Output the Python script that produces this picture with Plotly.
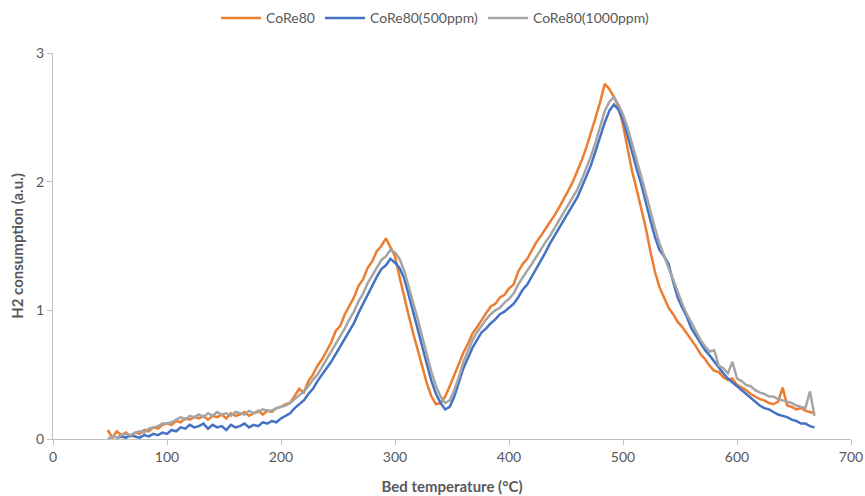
import plotly.graph_objects as go

temps = list(range(48, 669, 4))

core80 = [
    0.07, 0.01, 0.06, 0.03, 0.05, 0.02, 0.05, 0.04, 0.07, 0.06,
    0.09, 0.08, 0.11, 0.12, 0.11, 0.14, 0.13, 0.16, 0.15, 0.17,
    0.16, 0.18, 0.15, 0.18, 0.17, 0.19, 0.16, 0.20, 0.18, 0.19,
    0.21, 0.18, 0.20, 0.22, 0.19, 0.22, 0.21, 0.24, 0.25, 0.27,
    0.28, 0.33, 0.39, 0.36, 0.45, 0.50, 0.57, 0.62, 0.69, 0.75,
    0.84, 0.88, 0.97, 1.04, 1.10, 1.19, 1.24, 1.33, 1.38, 1.46,
    1.50, 1.56, 1.49, 1.42, 1.26, 1.10, 0.96, 0.82, 0.69, 0.55,
    0.43, 0.33, 0.27, 0.28, 0.33, 0.41, 0.50, 0.58, 0.67, 0.74,
    0.82, 0.87, 0.93, 0.98, 1.03, 1.05, 1.10, 1.12, 1.17, 1.20,
    1.30, 1.36, 1.40, 1.47, 1.53, 1.58, 1.63, 1.68, 1.74, 1.80,
    1.86, 1.93, 2.00, 2.08, 2.17, 2.27, 2.38, 2.50, 2.62, 2.76,
    2.72, 2.66, 2.58, 2.44, 2.26, 2.08, 1.94, 1.80, 1.64, 1.46,
    1.30, 1.18, 1.10, 1.02, 0.97, 0.91, 0.87, 0.82, 0.77, 0.72,
    0.66, 0.62, 0.57, 0.53, 0.52, 0.48, 0.46, 0.47, 0.42, 0.40,
    0.38, 0.35, 0.33, 0.31, 0.30, 0.28, 0.27, 0.29, 0.40, 0.26,
    0.25, 0.23, 0.24, 0.22, 0.21, 0.20,
]

core80_500 = [
    None, None, 0.01, 0.02, 0.01, 0.03, 0.02, 0.01, 0.03, 0.02,
    0.04, 0.03, 0.05, 0.04, 0.07, 0.06, 0.09, 0.08, 0.11, 0.09,
    0.10, 0.12, 0.08, 0.11, 0.09, 0.10, 0.07, 0.11, 0.09, 0.10,
    0.12, 0.09, 0.11, 0.10, 0.13, 0.12, 0.14, 0.13, 0.16, 0.18,
    0.20, 0.24, 0.27, 0.30, 0.35, 0.39, 0.45, 0.50, 0.55, 0.60,
    0.66, 0.72, 0.78, 0.84, 0.90, 0.98, 1.05, 1.13, 1.20, 1.26,
    1.32, 1.35, 1.40, 1.37, 1.33, 1.25, 1.12, 0.98, 0.85, 0.71,
    0.58, 0.45, 0.35, 0.28, 0.23, 0.25, 0.33, 0.44, 0.55, 0.63,
    0.71, 0.77, 0.83, 0.86, 0.90, 0.93, 0.97, 0.99, 1.02, 1.05,
    1.10, 1.16, 1.20, 1.26, 1.32, 1.39, 1.45, 1.52, 1.58, 1.63,
    1.69, 1.75, 1.81, 1.88, 1.96, 2.04, 2.13, 2.24, 2.35, 2.46,
    2.55, 2.60, 2.56, 2.48, 2.36, 2.22, 2.10, 1.98, 1.83, 1.70,
    1.57, 1.47, 1.42, 1.36, 1.22, 1.10, 1.02, 0.95, 0.86, 0.80,
    0.74, 0.69, 0.65, 0.60, 0.55, 0.51, 0.47, 0.44, 0.41, 0.38,
    0.35, 0.32, 0.29, 0.26, 0.24, 0.23, 0.21, 0.19, 0.18, 0.17,
    0.15, 0.14, 0.12, 0.12, 0.10, 0.09,
]

core80_1000 = [
    0.00, 0.02, 0.01, 0.03, 0.04, 0.03, 0.05, 0.06, 0.05, 0.08,
    0.09, 0.10, 0.12, 0.12, 0.13, 0.15, 0.17, 0.15, 0.18, 0.17,
    0.19, 0.17, 0.20, 0.18, 0.21, 0.19, 0.20, 0.18, 0.21, 0.20,
    0.19, 0.22, 0.20, 0.21, 0.23, 0.22, 0.22, 0.24, 0.25, 0.26,
    0.28, 0.31, 0.34, 0.37, 0.41, 0.46, 0.50, 0.56, 0.61, 0.67,
    0.73, 0.79, 0.86, 0.93, 0.99, 1.07, 1.13, 1.21, 1.27, 1.33,
    1.39, 1.42, 1.47, 1.45, 1.40, 1.31, 1.19, 1.06, 0.93, 0.79,
    0.65, 0.52, 0.41, 0.33, 0.28, 0.30, 0.38, 0.48, 0.60, 0.68,
    0.77, 0.83, 0.88, 0.93, 0.97, 1.00, 1.02, 1.06, 1.09, 1.13,
    1.20, 1.26, 1.31, 1.36, 1.42, 1.48, 1.53, 1.58, 1.64, 1.70,
    1.75, 1.81, 1.87, 1.94, 2.02, 2.11, 2.20, 2.31, 2.43, 2.55,
    2.62, 2.66, 2.60, 2.52, 2.42, 2.30, 2.17, 2.04, 1.91, 1.77,
    1.64, 1.52, 1.42, 1.33, 1.24, 1.14, 1.05, 0.97, 0.90, 0.83,
    0.77, 0.72, 0.68, 0.69, 0.57, 0.55, 0.51, 0.60, 0.47, 0.45,
    0.42, 0.41, 0.38, 0.36, 0.35, 0.33, 0.33, 0.31, 0.30, 0.29,
    0.28, 0.26, 0.25, 0.24, 0.37, 0.18,
]

series_names = ["CoRe80", "CoRe80(500ppm)", "CoRe80(1000ppm)"]
series_colors = ["#ED7D31", "#4472C4", "#A5A5A5"]
series_values = [core80, core80_500, core80_1000]

x_ticks = [0, 100, 200, 300, 400, 500, 600, 700]
y_ticks = [0, 1, 2, 3]

fig = go.Figure()
for name, color, vals in zip(series_names, series_colors, series_values):
    fig.add_trace(go.Scatter(
        x=temps, y=vals, mode="lines", name=name,
        line=dict(color=color, width=2.5),
    ))

FONT = "Lato, 'Open Sans', sans-serif"
fig.update_layout(
    width=865, height=496,
    margin=dict(l=53, r=14, t=53, b=57),
    paper_bgcolor="white", plot_bgcolor="white",
    font=dict(family=FONT, size=14, color="#595959"),
    showlegend=True,
    legend=dict(
        orientation="h", xref="container", yref="container",
        x=0.503, xanchor="center", y=0.963, yanchor="middle",
        font=dict(size=14, color="#595959"),
        itemwidth=40, tracegroupgap=0,
    ),
    xaxis=dict(
        range=[0, 700], tickvals=x_ticks, showgrid=False, zeroline=False,
        automargin=False,
        showline=True, linecolor="#BFBFBF", linewidth=1,
        ticks="outside", ticklen=5, tickcolor="#BFBFBF",
        tickfont=dict(size=14, color="#595959"),
        title=dict(text="<b>Bed temperature (°C)</b>",
                   font=dict(size=15, color="#595959"), standoff=17),
    ),
    yaxis=dict(
        range=[0, 3], tickvals=y_ticks, showgrid=False, zeroline=False,
        automargin=False,
        showline=True, linecolor="#BFBFBF", linewidth=1,
        ticks="outside", ticklen=5, tickcolor="#BFBFBF",
        tickfont=dict(size=14, color="#595959"),
        title=dict(text="<b>H2 consumption (a.u.)</b>",
                   font=dict(size=15, color="#595959"), standoff=8),
    ),
)

fig.write_html("out.html")
